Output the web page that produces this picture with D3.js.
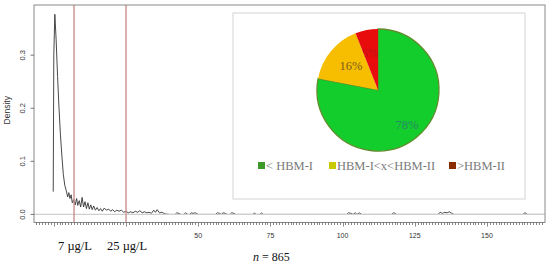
<!DOCTYPE html>
<html><head><meta charset="utf-8">
<script src="https://cdn.jsdelivr.net/npm/d3@7"></script>
<style>body{margin:0;background:#fff}svg{display:block}</style>
</head><body>
<script>
// ---- data ----
const densX = [-0.2,0.0,0.35,0.8,1.3,1.8,2.3,2.8,3.3,3.8,4.3,4.8,5.2,5.6,6.0,6.4,6.9,7.4,7.9,8.3,8.8,9.3,9.8,10.3,10.8,11.3,11.8,12.3,12.8,13.3,13.8,14.4,15.0,15.6,16.2,16.8,17.5,18.2,19.0,19.7,20.4,21.1,21.8,22.6,23.4,24.2,25.0,25.8,26.6,27.4,28.2,29.0,29.8,30.6,31.4,32.2,33.0,33.8,34.6,35.2,35.8,36.6,37.4,38.5,40,
  42,42.6,43.4,44,45,45.6,46.4,47,47.6,48.2,49,50,
  56,56.6,57.4,58,58.6,59.4,60,61,61.6,62.4,63,
  69,69.5,70,71.4,71.9,72.5,
  101.4,102,103,103.6,104.4,105,105.8,106.6,
  117,117.6,118.2,118.7,
  133,133.8,134.6,135.4,136.2,137,137.8,138.6,
  162.5,163,163.6,164,170];
const densY = [0.043,0.30,0.377,0.33,0.26,0.20,0.15,0.11,0.075,0.055,0.045,0.033,0.041,0.030,0.037,0.022,0.028,0.018,0.030,0.017,0.026,0.014,0.032,0.014,0.024,0.011,0.022,0.010,0.018,0.009,0.016,0.008,0.013,0.007,0.011,0.006,0.012,0.008,0.010,0.006,0.009,0.005,0.008,0.006,0.008,0.004,0.006,0.003,0.005,0.003,0.006,0.004,0.007,0.003,0.005,0.003,0.004,0.002,0.008,0.004,0.009,0.003,0.004,0.001,0.0,
  0.0,0.003,0.002,0.0,0.0,0.003,0.0,0.0,0.003,0.002,0.003,0.0,
  0.0,0.003,0.002,0.0,0.003,0.002,0.0,0.0,0.003,0.002,0.0,
  0.0,0.003,0.0,0.0,0.003,0.0,
  0.0,0.003,0.002,0.0,0.003,0.0,0.003,0.0,
  0.0,0.003,0.002,0.0,
  0.0,0.004,0.002,0.004,0.003,0.005,0.002,0.0,
  0.0,0.003,0.002,0.0,0.0];
const xTickLabels = [50, 75, 100, 125, 150];
const yTicks = [0.0, 0.1, 0.2, 0.3];
const limitValues = [7, 25];
const limitLabels = ["7 µg/L", "25 µg/L"];
const pieCategories = ["< HBM-I", "HBM-I<x<HBM-II", ">HBM-II"];
const pieValues = [78, 16, 6];
const pieLabels = ["78%", "16%", "6%"];
const nLabel = "865";

// ---- layout ----
const W = 550, H = 266;
const svg = d3.select("body").append("svg").attr("width", W).attr("height", H);
const L = 34, R = 545, T = 5, B = 222.5;
const x = d3.scaleLinear().domain([-6.86, 170.1]).range([L, R]);
const y = d3.scaleLinear().domain([-0.0152, 0.3945]).range([B, T]);
const sans = "'Liberation Sans', Arial, sans-serif";
const serif = "'Liberation Serif', 'Times New Roman', serif";

// density curve
const pts = densX.map((v, i) => [v, densY[i]]);
svg.append("path").datum(pts)
  .attr("d", d3.line().x(d => x(d[0])).y(d => y(d[1])))
  .attr("fill", "none").attr("stroke", "#333").attr("stroke-width", 0.9);

// zero line (drawn over the curve, as in the reference)
svg.append("line").attr("x1", L).attr("x2", R).attr("y1", y(0)).attr("y2", y(0))
  .attr("stroke", "#cfcfcf").attr("stroke-width", 1.3);

// limit lines
svg.selectAll(".lim").data(limitValues).enter().append("line")
  .attr("x1", d => x(d)).attr("x2", d => x(d)).attr("y1", T).attr("y2", B)
  .attr("stroke", "#c99090").attr("stroke-width", 1.4);

// frame
svg.append("rect").attr("x", L).attr("y", T).attr("width", R - L).attr("height", B - T)
  .attr("fill", "none").attr("stroke", "#8a8a8a").attr("stroke-width", 1);

// x ticks: every unit, longer at multiples of 25
const xt = d3.range(-6, 170, 1);
svg.selectAll(".xt").data(xt).enter().append("line")
  .attr("x1", d => Math.round(x(d)) + 0.5).attr("x2", d => Math.round(x(d)) + 0.5)
  .attr("y1", B).attr("y2", d => B + (d % 25 === 0 ? 4 : 2.5))
  .attr("stroke", "#555").attr("stroke-width", 0.7);
svg.selectAll(".xl").data(xTickLabels).enter().append("text")
  .attr("x", d => x(d)).attr("y", 237.5).attr("text-anchor", "middle")
  .attr("font-family", sans).attr("font-size", 7).attr("fill", "#333").text(d => d);

// y axis
svg.selectAll(".yt").data(yTicks).enter().append("line")
  .attr("x1", L - 3.5).attr("x2", L).attr("y1", d => y(d)).attr("y2", d => y(d))
  .attr("stroke", "#555").attr("stroke-width", 0.8);
svg.selectAll(".yl").data(yTicks).enter().append("text")
  .attr("transform", d => `translate(25,${y(d)}) rotate(-90)`)
  .attr("text-anchor", "middle").attr("font-family", sans).attr("font-size", 7.5)
  .attr("fill", "#333").text(d => d.toFixed(1));
svg.append("text").attr("transform", `translate(10,${y(0.2) + 2}) rotate(-90)`)
  .attr("text-anchor", "middle").attr("font-family", sans).attr("font-size", 8.5)
  .attr("fill", "#333").text("Density");

// limit labels
svg.selectAll(".ll").data(limitLabels).enter().append("text")
  .attr("x", (d, i) => x(limitValues[i]) + (i === 0 ? -16 : -19)).attr("y", 250)
  .attr("font-family", serif).attr("font-size", 12.5).attr("fill", "#111").text(d => d);

// n label
const nt = svg.append("text").attr("x", 253).attr("y", 261)
  .attr("font-family", serif).attr("font-size", 12).attr("fill", "#111");
nt.append("tspan").attr("font-style", "italic").text("n");
nt.append("tspan").text(" = " + nLabel);

// inset box
svg.append("rect").attr("x", 233).attr("y", 13).attr("width", 292).attr("height", 186)
  .attr("fill", "#fff").attr("stroke", "#d4d4d4").attr("stroke-width", 1);

// pie
const pieColors = ["#12cd2c", "#f7be00", "#e80c0c"];
const labelColors = ["#2a8a66", "#7a5a1e", "#b81414"];
const cx = 378, cy = 90, r = 61;
const arcs = d3.pie().sort(null)(pieValues);
const arc = d3.arc().innerRadius(0).outerRadius(r);
const g = svg.append("g").attr("transform", `translate(${cx},${cy})`);
const defs = svg.append("defs");
defs.selectAll("clipPath").data(arcs).enter().append("clipPath")
  .attr("id", (d, i) => "slice" + i)
  .append("path").attr("d", arc);
g.selectAll("path").data(arcs).enter().append("path")
  .attr("d", arc).attr("fill", (d, i) => pieColors[i])
  .attr("stroke", (d, i) => i === 0 ? "#5f8d2c" : "none").attr("stroke-width", 1.3);
const labelArc = d3.arc().innerRadius(r * 0.62).outerRadius(r * 0.62);
g.selectAll("g.lab").data(arcs).enter().append("g").attr("class", "lab")
  .attr("clip-path", (d, i) => `url(#slice${i})`)
  .append("text")
  .attr("transform", (d, i) => {
    const c = labelArc.centroid(d);
    if (i === 0) return `translate(${29},${39})`;
    if (i === 2) return `translate(${c[0] - 1},${c[1] + 4})`;
    return `translate(${c[0] + 2},${c[1] + 4})`;
  })
  .attr("text-anchor", "middle").attr("font-family", serif).attr("font-size", 12.5)
  .attr("fill", (d, i) => labelColors[i]).text((d, i) => pieLabels[i]);

// legend
const legColors = ["#3c9a28", "#c9c900", "#8b2c00"];
const legX = [258, 329, 449];
const lg = svg.selectAll(".leg").data(pieCategories).enter().append("g")
  .attr("transform", (d, i) => `translate(${legX[i]},162)`);
lg.append("rect").attr("width", 7).attr("height", 7).attr("fill", (d, i) => legColors[i]);
lg.append("text").attr("x", 8).attr("y", 7.5).attr("font-family", serif).attr("font-size", 12.5)
  .attr("fill", "#7a7a7a").text(d => d);
</script>
</body></html>
